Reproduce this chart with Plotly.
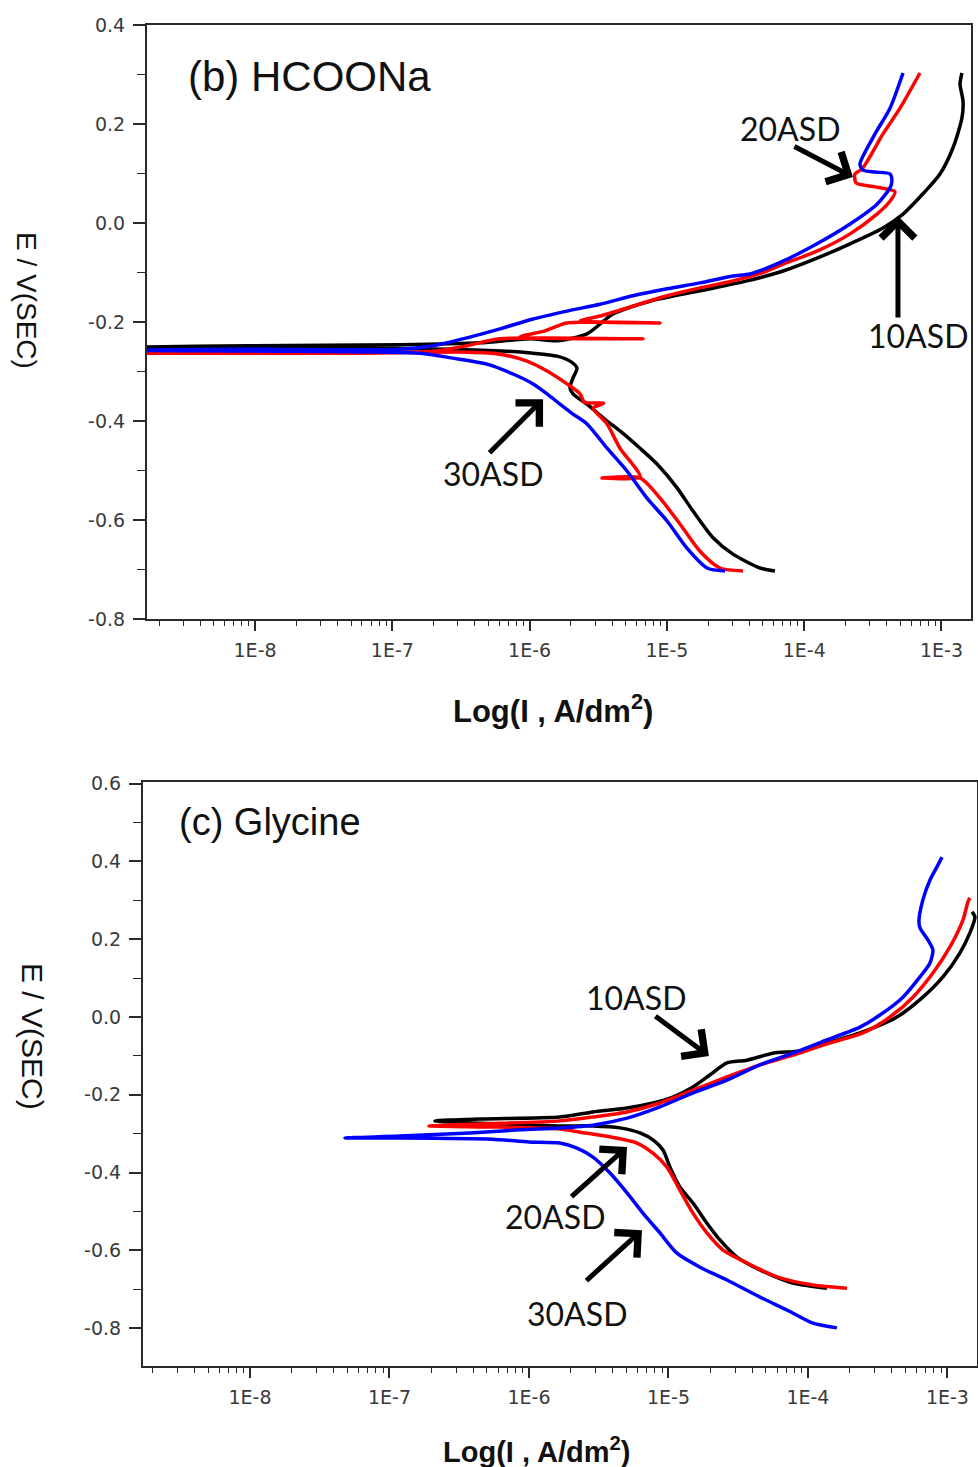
import plotly.graph_objects as go

# ---------------- Panel (b) HCOONa : log10(I, A/dm2) and E (V vs SCE) ----------------
b10_logI = [-4.213, -4.322, -4.519, -4.664, -4.810, -4.926, -5.072, -5.196, -5.342, -5.436,
            -5.582, -5.684, -5.706, -5.684, -5.655, -5.706, -5.800, -5.975, -6.165, -6.580,
            -7.308, -8.900, -8.036, -6.944, -6.361, -5.997, -5.800, -5.582, -5.393, -5.123,
            -4.759, -4.417, -4.154, -3.907, -3.666, -3.426, -3.280, -3.135, -3.011, -2.916,
            -2.851, -2.843, -2.865, -2.851]
b10_E = [-0.703, -0.697, -0.669, -0.636, -0.582, -0.535, -0.487, -0.455, -0.420, -0.400,
         -0.366, -0.345, -0.333, -0.313, -0.293, -0.279, -0.269, -0.263, -0.259, -0.255,
         -0.253, -0.251, -0.248, -0.246, -0.242, -0.234, -0.238, -0.224, -0.184, -0.158,
         -0.137, -0.117, -0.097, -0.071, -0.042, -0.010, 0.018, 0.059, 0.099, 0.152,
         0.212, 0.246, 0.281, 0.303]

b20_logI = [-4.446, -4.613, -4.759, -4.905, -5.050, -5.196, -5.473, -5.196, -5.342, -5.436,
            -5.538, -5.460, -5.600, -5.633, -5.728, -5.873, -6.019, -6.216, -6.456, -7.308,
            -8.900, -7.672, -6.704, -6.456, -6.216, -5.174, -6.070, -5.888, -5.728, -5.050,
            -5.633, -5.487, -5.247, -4.999, -4.759, -4.519, -4.271, -4.154, -3.907, -3.666,
            -3.470, -3.375, -3.339, -3.484, -3.623, -3.630, -3.579, -3.426, -3.302, -3.157]
b20_E = [-0.703, -0.697, -0.663, -0.608, -0.556, -0.515, -0.515, -0.513, -0.455, -0.406,
         -0.374, -0.364, -0.362, -0.345, -0.325, -0.299, -0.279, -0.265, -0.261, -0.263,
         -0.263, -0.261, -0.259, -0.248, -0.234, -0.234, -0.230, -0.218, -0.202, -0.202,
         -0.198, -0.188, -0.168, -0.147, -0.131, -0.117, -0.097, -0.083, -0.057, -0.022,
         0.018, 0.044, 0.063, 0.073, 0.081, 0.099, 0.109, 0.180, 0.232, 0.303]

b30_logI = [-4.577, -4.708, -4.854, -4.999, -5.145, -5.291, -5.436, -5.582, -5.684, -5.779,
            -5.873, -5.975, -6.121, -6.310, -6.558, -6.798, -7.672, -8.900, -8.036, -6.944,
            -6.704, -6.456, -6.216, -5.975, -5.728, -5.487, -5.247, -4.999, -4.759, -4.519,
            -4.395, -4.154, -3.907, -3.666, -3.470, -3.375, -3.361, -3.375, -3.484, -3.572,
            -3.594, -3.484, -3.375, -3.280]
b30_E = [-0.703, -0.697, -0.657, -0.602, -0.556, -0.501, -0.455, -0.406, -0.386, -0.366,
         -0.345, -0.325, -0.305, -0.285, -0.273, -0.263, -0.259, -0.257, -0.255, -0.255,
         -0.248, -0.232, -0.214, -0.194, -0.178, -0.164, -0.147, -0.133, -0.121, -0.107,
         -0.103, -0.077, -0.042, -0.002, 0.038, 0.071, 0.085, 0.099, 0.103, 0.107,
         0.119, 0.180, 0.232, 0.303]

# ---------------- Panel (c) Glycine ----------------
c10_logI = [-3.864, -4.108, -4.344, -4.509, -4.631, -4.724, -4.824, -4.918, -4.989, -5.039,
            -5.111, -5.204, -5.348, -5.541, -5.778, -6.208, -6.674, -6.351, -5.778, -5.541,
            -5.297, -5.111, -4.968, -4.824, -4.703, -4.581, -4.437, -4.251, -4.057, -3.864,
            -3.627, -3.362, -3.176, -3.032, -2.910, -2.839, -2.803, -2.824]
c10_E = [-0.697, -0.684, -0.650, -0.617, -0.573, -0.530, -0.478, -0.437, -0.386, -0.342,
         -0.316, -0.298, -0.285, -0.280, -0.280, -0.275, -0.267, -0.262, -0.257, -0.244,
         -0.234, -0.221, -0.206, -0.180, -0.149, -0.118, -0.111, -0.093, -0.087, -0.067,
         -0.041, 0.000, 0.051, 0.103, 0.165, 0.216, 0.257, 0.270]

c20_logI = [-3.720, -3.964, -4.222, -4.437, -4.609, -4.724, -4.824, -4.918, -5.011, -5.111,
            -5.226, -5.419, -5.634, -5.778, -6.208, -6.717, -6.351, -5.778, -5.541, -5.297,
            -5.061, -4.824, -4.581, -4.344, -4.108, -3.864, -3.606, -3.412, -3.247, -3.104,
            -2.982, -2.889, -2.853, -2.839]
c20_E = [-0.697, -0.689, -0.668, -0.632, -0.599, -0.555, -0.504, -0.445, -0.386, -0.350,
         -0.324, -0.308, -0.296, -0.288, -0.283, -0.280, -0.275, -0.267, -0.257, -0.244,
         -0.221, -0.188, -0.154, -0.123, -0.098, -0.069, -0.041, 0.000, 0.051, 0.113,
         0.180, 0.249, 0.296, 0.306]

c30_logI = [-3.792, -3.964, -4.151, -4.344, -4.581, -4.774, -4.939, -5.061, -5.183, -5.297,
            -5.419, -5.541, -5.656, -5.778, -6.000, -6.265, -6.925, -7.319, -6.925, -6.423,
            -6.065, -5.778, -5.541, -5.297, -5.061, -4.824, -4.581, -4.344, -4.108, -3.864,
            -3.627, -3.484, -3.319, -3.197, -3.125, -3.104, -3.140, -3.197, -3.204, -3.176,
            -3.125, -3.075, -3.039]
c30_E = [-0.799, -0.787, -0.753, -0.720, -0.676, -0.643, -0.607, -0.555, -0.504, -0.452,
         -0.401, -0.360, -0.337, -0.324, -0.321, -0.314, -0.311, -0.311, -0.306, -0.298,
         -0.290, -0.285, -0.278, -0.260, -0.231, -0.195, -0.162, -0.123, -0.093, -0.059,
         -0.026, 0.005, 0.051, 0.103, 0.139, 0.172, 0.198, 0.229, 0.249, 0.301,
         0.352, 0.386, 0.411]

# ---------------- Axis ticks ----------------
x_tickvals = [1e-8, 1e-7, 1e-6, 1e-5, 1e-4, 1e-3]
x_ticktext = ["1E-8", "1E-7", "1E-6", "1E-5", "1E-4", "1E-3"]
x_minorvals = [k * 10.0 ** e for e in range(-9, -2) for k in range(2, 10)]

b_yvals = [-0.8, -0.6, -0.4, -0.2, 0.0, 0.2, 0.4]
b_ytext = ["-0.8", "-0.6", "-0.4", "-0.2", "0.0", "0.2", "0.4"]
b_yminor = [-0.7, -0.5, -0.3, -0.1, 0.1, 0.3]
c_yvals = [-0.8, -0.6, -0.4, -0.2, 0.0, 0.2, 0.4, 0.6]
c_ytext = ["-0.8", "-0.6", "-0.4", "-0.2", "0.0", "0.2", "0.4", "0.6"]
c_yminor = [-0.9, -0.7, -0.5, -0.3, -0.1, 0.1, 0.3, 0.5]

BLACK, RED, BLUE = "#000000", "#ff0000", "#0000ff"

fig = go.Figure()


def add_curve(logI, E, color, xa, ya):
    fig.add_trace(go.Scatter(x=[10.0 ** v for v in logI], y=E, mode="lines",
                             line=dict(color=color, width=3.5, shape="spline", smoothing=0.7),
                             xaxis=xa, yaxis=ya, hoverinfo="skip", showlegend=False))


add_curve(b10_logI, b10_E, BLACK, "x", "y")
add_curve(b20_logI, b20_E, RED, "x", "y")
add_curve(b30_logI, b30_E, BLUE, "x", "y")
add_curve(c10_logI, c10_E, BLACK, "x2", "y2")
add_curve(c20_logI, c20_E, RED, "x2", "y2")
add_curve(c30_logI, c30_E, BLUE, "x2", "y2")

W, H = 978, 1467
AX = "#2a2a2a"
tickfont = dict(family="DejaVu Sans", size=19, color="#3a3a3a")


def xaxis(domain, rng, anchor):
    return dict(type="log", domain=domain, range=rng, anchor=anchor, automargin=False,
                showline=True, linecolor=AX, linewidth=2, mirror=True,
                showgrid=False, zeroline=False,
                ticks="outside", ticklen=10, tickwidth=1.5, tickcolor=AX,
                tickmode="array", tickvals=x_tickvals, ticktext=x_ticktext,
                tickfont=tickfont, ticklabelstandoff=3,
                minor=dict(ticks="outside", ticklen=5, tickwidth=1.2, tickcolor=AX,
                           tickmode="array", tickvals=x_minorvals, showgrid=False))


def yaxis(domain, rng, anchor, vals, text, minor):
    return dict(domain=domain, range=rng, anchor=anchor, automargin=False,
                showline=True, linecolor=AX, linewidth=2, mirror=True,
                showgrid=False, zeroline=False,
                ticks="outside", ticklen=12, tickwidth=1.5, tickcolor=AX,
                tickmode="array", tickvals=vals, ticktext=text,
                tickfont=tickfont, ticklabelstandoff=4,
                minor=dict(ticks="outside", ticklen=8, tickwidth=1.2, tickcolor=AX,
                           tickmode="array", tickvals=minor, showgrid=False))


fig.update_layout(
    width=W, height=H, autosize=False,
    margin=dict(l=0, r=0, t=0, b=0, pad=0, autoexpand=False),
    paper_bgcolor="white", plot_bgcolor="white",
    showlegend=False,
    xaxis=xaxis([147 / W, 971 / W], [-8.787, -2.785], "y"),
    yaxis=yaxis([1 - 619 / H, 1 - 25 / H], [-0.8, 0.4], "x", b_yvals, b_ytext, b_yminor),
    xaxis2=xaxis([143 / W, 977 / W], [-8.767, -2.788], "y2"),
    yaxis2=yaxis([1 - 1366 / H, 1 - 782 / H], [-0.897, 0.604], "x2", c_yvals, c_ytext, c_yminor),
)

ann = []
arial = "Liberation Sans, Arial, sans-serif"


def paper_text(text, xc, yc, size, angle=0, xanchor="center", bold=False):
    ann.append(dict(text=("<b>%s</b>" % text) if bold else text, x=xc / W, y=1 - yc / H,
                    xref="paper", yref="paper", xanchor=xanchor, yanchor="middle",
                    showarrow=False, textangle=angle,
                    font=dict(family=arial, size=size, color="#111")))


# axis titles
paper_text("Log(I , A/dm<sup>2</sup>)", 553, 709, 31, bold=True)
paper_text("Log(I , A/dm<sup>2</sup>)", 536, 1450, 29, bold=True)
paper_text("E / V(SEC)", 27, 300, 28, angle=90)
paper_text("E / V(SEC)", 33, 1036, 30, angle=90)
# panel labels
paper_text("(b) HCOONa", 186, 76, 42, xanchor="left")
paper_text("(c) Glycine", 177, 822, 38, xanchor="left")

lab_font = dict(family="Lato, sans-serif", size=32, color="#111")
# (text, x(log), y, xref, yref)
labels = [("20ASD", -4.103, 0.190, "x", "y"), ("10ASD", -3.171, -0.228, "x", "y"),
          ("30ASD", -6.267, -0.507, "x", "y"),
          ("10ASD", -5.233, 0.049, "x2", "y2"), ("20ASD", -5.814, -0.514, "x2", "y2"),
          ("30ASD", -5.656, -0.761, "x2", "y2")]
for t, x, y, xr, yr in labels:
    ann.append(dict(text=t, x=x, y=y, xref=xr, yref=yr, showarrow=False, font=lab_font,
                    xanchor="center", yanchor="middle"))

# arrows: tail (ax, ay) -> tip (x, y)
arrows = [((-4.082, 0.156), (-3.645, 0.093), "x", "y"),
          ((-3.317, -0.194), (-3.317, 0.014), "x", "y"),
          ((-6.303, -0.467), (-5.902, -0.356), "x", "y"),
          ((-5.104, 0.005), (-4.710, -0.100), "x2", "y2"),
          ((-5.706, -0.465), (-5.297, -0.334), "x2", "y2"),
          ((-5.599, -0.681), (-5.190, -0.548), "x2", "y2")]
for (tx, ty), (hx, hy), xr, yr in arrows:
    ann.append(dict(text="", x=hx, y=hy, ax=tx, ay=ty, xref=xr, yref=yr,
                    axref=xr, ayref=yr, showarrow=True, arrowhead=4,
                    arrowsize=1.3, arrowwidth=5, arrowcolor="#000"))

fig.update_layout(annotations=ann)
fig.write_html("out.html")
